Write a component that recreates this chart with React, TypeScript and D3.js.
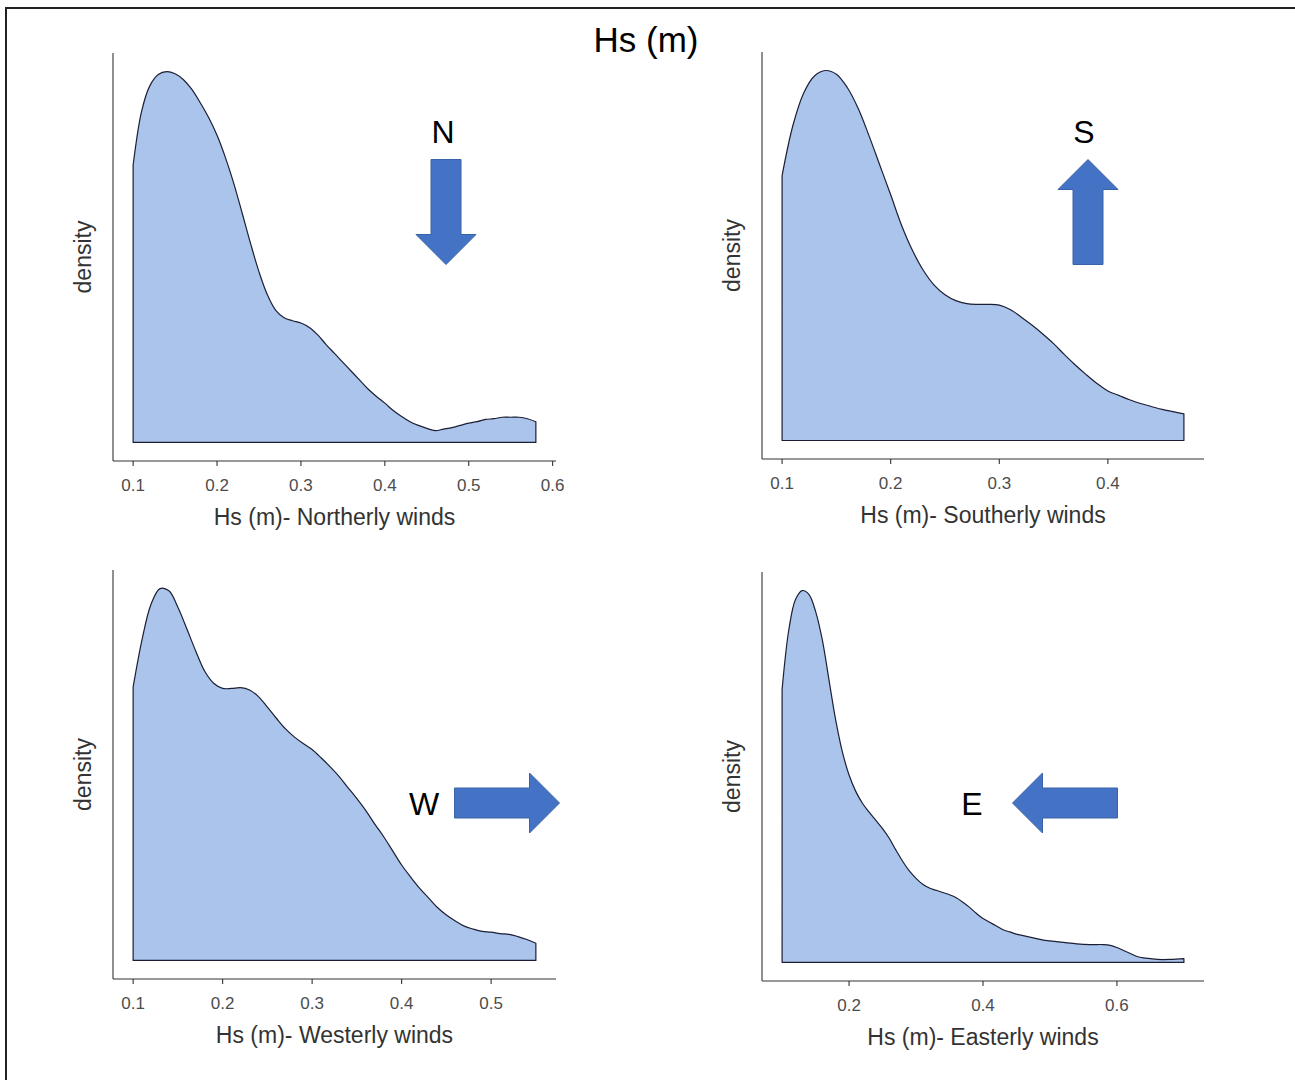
import React from 'react';
import * as d3 from 'd3';

// density estimates (arbitrary density units)
const northX = [0.1, 0.11, 0.12, 0.13, 0.14, 0.15, 0.16, 0.17, 0.18, 0.19, 0.2, 0.21, 0.22, 0.23, 0.24, 0.25, 0.26, 0.27, 0.28, 0.29, 0.3, 0.31, 0.32, 0.33, 0.34, 0.35, 0.36, 0.37, 0.38, 0.39, 0.4, 0.41, 0.42, 0.43, 0.44, 0.45, 0.46, 0.47, 0.48, 0.49, 0.5, 0.51, 0.52, 0.53, 0.54, 0.55, 0.56, 0.57, 0.58];
const northDensity = [3.74, 4.46, 4.81, 4.96, 5.0, 4.97, 4.89, 4.76, 4.58, 4.38, 4.14, 3.84, 3.49, 3.09, 2.68, 2.3, 1.99, 1.78, 1.68, 1.64, 1.61, 1.55, 1.45, 1.32, 1.2, 1.08, 0.96, 0.84, 0.72, 0.62, 0.53, 0.43, 0.35, 0.28, 0.23, 0.19, 0.16, 0.18, 0.2, 0.23, 0.26, 0.28, 0.31, 0.32, 0.34, 0.34, 0.34, 0.32, 0.28];

const southX = [0.1, 0.11, 0.12, 0.13, 0.14, 0.15, 0.16, 0.17, 0.18, 0.19, 0.2, 0.21, 0.22, 0.23, 0.24, 0.25, 0.26, 0.27, 0.28, 0.29, 0.3, 0.31, 0.32, 0.33, 0.34, 0.35, 0.36, 0.37, 0.38, 0.39, 0.4, 0.41, 0.42, 0.43, 0.44, 0.45, 0.46, 0.47];
const southDensity = [3.58, 4.26, 4.7, 4.93, 5.0, 4.95, 4.77, 4.49, 4.12, 3.72, 3.32, 2.91, 2.57, 2.3, 2.1, 1.97, 1.89, 1.85, 1.84, 1.84, 1.83, 1.77, 1.67, 1.56, 1.44, 1.31, 1.16, 1.02, 0.89, 0.77, 0.67, 0.61, 0.55, 0.5, 0.46, 0.42, 0.39, 0.36];

const westX = [0.1, 0.11, 0.12, 0.13, 0.14, 0.15, 0.16, 0.17, 0.18, 0.19, 0.2, 0.21, 0.22, 0.23, 0.24, 0.25, 0.26, 0.27, 0.28, 0.29, 0.3, 0.31, 0.32, 0.33, 0.34, 0.35, 0.36, 0.37, 0.38, 0.39, 0.4, 0.41, 0.42, 0.43, 0.44, 0.45, 0.46, 0.47, 0.48, 0.49, 0.5, 0.51, 0.52, 0.53, 0.54, 0.55];
const westDensity = [3.67, 4.31, 4.78, 4.99, 4.96, 4.74, 4.45, 4.15, 3.88, 3.72, 3.65, 3.65, 3.66, 3.63, 3.54, 3.4, 3.25, 3.11, 3.0, 2.91, 2.83, 2.72, 2.6, 2.47, 2.32, 2.17, 2.01, 1.83, 1.66, 1.47, 1.28, 1.12, 0.97, 0.84, 0.71, 0.61, 0.53, 0.46, 0.42, 0.39, 0.38, 0.36, 0.35, 0.32, 0.28, 0.23];

const eastX = [0.1, 0.11, 0.12, 0.13, 0.14, 0.15, 0.16, 0.17, 0.18, 0.19, 0.2, 0.21, 0.22, 0.23, 0.24, 0.25, 0.26, 0.27, 0.28, 0.29, 0.3, 0.31, 0.32, 0.33, 0.34, 0.35, 0.36, 0.37, 0.38, 0.39, 0.4, 0.41, 0.42, 0.43, 0.44, 0.45, 0.46, 0.47, 0.48, 0.49, 0.5, 0.52, 0.54, 0.56, 0.58, 0.59, 0.6, 0.61, 0.62, 0.63, 0.64, 0.65, 0.66, 0.68, 0.7];
const eastDensity = [3.67, 4.47, 4.88, 5.0, 4.95, 4.72, 4.34, 3.8, 3.26, 2.83, 2.52, 2.3, 2.14, 2.02, 1.91, 1.8, 1.67, 1.51, 1.36, 1.23, 1.13, 1.05, 1.0, 0.97, 0.94, 0.91, 0.87, 0.81, 0.74, 0.66, 0.59, 0.54, 0.49, 0.44, 0.41, 0.38, 0.36, 0.34, 0.32, 0.3, 0.29, 0.27, 0.25, 0.24, 0.24, 0.23, 0.2, 0.16, 0.12, 0.08, 0.06, 0.05, 0.04, 0.04, 0.05];

const northTicks = [0.1, 0.2, 0.3, 0.4, 0.5, 0.6];
const southTicks = [0.1, 0.2, 0.3, 0.4];
const westTicks = [0.1, 0.2, 0.3, 0.4, 0.5];
const eastTicks = [0.2, 0.4, 0.6];

const FONT = '"Liberation Sans", Arial, Helvetica, sans-serif';
const FILL = '#aac4ec';
const ARROW = '#4472c4';

type Dir = 'N' | 'S' | 'W' | 'E';

function Arrow({ dir, cx, cy }: { dir: Dir; cx: number; cy: number }) {
  // block arrow pointing right, then rotated
  const L = 105, H = 30, HW = 30, SW = 15;
  const pts: [number, number][] = [
    [-L / 2, -SW], [L / 2 - H, -SW], [L / 2 - H, -HW], [L / 2, 0],
    [L / 2 - H, HW], [L / 2 - H, SW], [-L / 2, SW]
  ];
  const rot = { E: 0, S: 90, W: 180, N: -90 }[dir];
  return (
    <path
      d={d3.line()(pts) + 'Z'}
      transform={`translate(${cx},${cy}) rotate(${rot})`}
      fill={ARROW}
      stroke="#3a62a8"
      strokeWidth={1}
    />
  );
}

function Panel(props: {
  xs: number[]; ys: number[]; ticks: number[];
  left: number; right: number; top: number; bottom: number;
  title: string;
}) {
  const { xs, ys, ticks, left, right, top, bottom, title } = props;
  const x0 = d3.min(xs)!, x1 = d3.max(xs)!;
  const xPad = (x1 - x0) * 0.05;
  const yMax = d3.max(ys)!;
  const x = d3.scaleLinear().domain([x0 - xPad, x1 + xPad]).range([left, right]);
  const y = d3.scaleLinear().domain([-yMax * 0.05, yMax * 1.05]).range([bottom, top]);
  const pts = xs.map((v, i) => [v, ys[i]] as [number, number]);
  const area = d3.area<[number, number]>()
    .x(d => x(d[0]))
    .y0(y(0))
    .y1(d => y(d[1]))
    .curve(d3.curveCatmullRom.alpha(0.5))(pts);

  return (
    <g>
      <path d={area!} fill={FILL} stroke="#1c1f33" strokeWidth={1.2} strokeLinejoin="round" />
      <line x1={left} x2={right} y1={bottom} y2={bottom} stroke="#333" strokeWidth={1.1} />
      <line x1={left} x2={left} y1={top} y2={bottom} stroke="#333" strokeWidth={1.1} />
      {ticks.map(t => (
        <g key={t}>
          <line x1={x(t)} x2={x(t)} y1={bottom} y2={bottom + 5} stroke="#333" strokeWidth={1.1} />
          <text x={x(t)} y={bottom + 30} textAnchor="middle" fontSize={17} fill="#4d4d4d" fontFamily={FONT}>
            {t.toFixed(1)}
          </text>
        </g>
      ))}
      <text x={(left + right) / 2} y={bottom + 64} textAnchor="middle" fontSize={23} fill="#333" fontFamily={FONT}>
        {title}
      </text>
      <text
        transform={`translate(${left - 22},${(top + bottom) / 2}) rotate(-90)`}
        textAnchor="middle" fontSize={23} fill="#333" fontFamily={FONT}
      >
        density
      </text>
    </g>
  );
}

export default function App() {
  return (
    <svg width={1295} height={1080} style={{ position: 'absolute', left: 0, top: 0, background: '#fff' }}>
      <rect x={6} y={8} width={1400} height={1200} fill="none" stroke="#222" strokeWidth={2} />
      <text x={646} y={52} textAnchor="middle" fontSize={35} fill="#000" fontFamily={FONT}>Hs (m)</text>

      <Panel xs={northX} ys={northDensity} ticks={northTicks} left={113} right={556} top={53} bottom={461}
        title="Hs (m)- Northerly winds" />
      <Panel xs={southX} ys={southDensity} ticks={southTicks} left={762} right={1204} top={52} bottom={459}
        title="Hs (m)- Southerly winds" />
      <Panel xs={westX} ys={westDensity} ticks={westTicks} left={113} right={556} top={570} bottom={979}
        title="Hs (m)- Westerly winds" />
      <Panel xs={eastX} ys={eastDensity} ticks={eastTicks} left={762} right={1204} top={572} bottom={981}
        title="Hs (m)- Easterly winds" />

      <text x={443} y={143} textAnchor="middle" fontSize={32} fill="#000" fontFamily={FONT}>N</text>
      <Arrow dir="S" cx={446} cy={212} />
      <text x={1084} y={143} textAnchor="middle" fontSize={32} fill="#000" fontFamily={FONT}>S</text>
      <Arrow dir="N" cx={1088} cy={212} />
      <text x={424} y={815} textAnchor="middle" fontSize={32} fill="#000" fontFamily={FONT}>W</text>
      <Arrow dir="E" cx={507} cy={803} />
      <text x={972} y={815} textAnchor="middle" fontSize={32} fill="#000" fontFamily={FONT}>E</text>
      <Arrow dir="W" cx={1065} cy={803} />
    </svg>
  );
}
